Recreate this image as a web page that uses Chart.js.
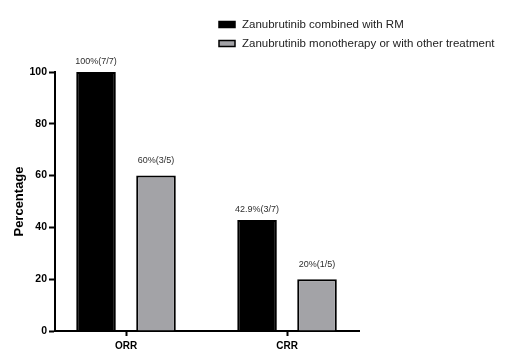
<!DOCTYPE html>
<html>
<head>
<meta charset="utf-8">
<script src="https://cdn.jsdelivr.net/npm/chart.js@4.4.1/dist/chart.umd.min.js"></script>
<style>
  html, body { margin: 0; padding: 0; background: #fff; }
  #wrap { width: 508px; height: 359px; position: relative; }
</style>
</head>
<body>
<div id="wrap"><canvas id="respChart"></canvas></div>
<script>
const categories = ['ORR', 'CRR'];
const seriesNames = ['Zanubrutinib combined with RM', 'Zanubrutinib monotherapy or with other treatment'];
const combinedRM = [100, 42.9];
const monoOther = [60, 20];
const combinedLabels = ['100%(7/7)', '42.9%(3/7)'];
const monoLabels = ['60%(3/5)', '20%(1/5)'];
const yTicks = [0, 20, 40, 60, 80, 100];

const FONT = "'Liberation Sans', Arial, sans-serif";
const barFills = ['#000000', '#a3a3a7'];
const labelGap = [10, 15];
const pointLabels = [combinedLabels, monoLabels];

const valueLabels = {
  id: 'valueLabels',
  afterDatasetsDraw(chart) {
    const { ctx } = chart;
    ctx.save();
    ctx.font = '9px ' + FONT;
    ctx.fillStyle = '#2e2e2e';
    ctx.textAlign = 'center';
    ctx.textBaseline = 'middle';
    chart.data.datasets.forEach((ds, di) => {
      chart.getDatasetMeta(di).data.forEach((bar, i) => {
        ctx.fillText(pointLabels[di][i], bar.x, bar.y - labelGap[di]);
      });
    });
    ctx.restore();
  }
};

const stackedLegend = {
  id: 'stackedLegend',
  afterDraw(chart) {
    const { ctx } = chart;
    ctx.save();
    ctx.font = '11.5px ' + FONT;
    ctx.textBaseline = 'middle';
    seriesNames.forEach((name, i) => {
      const y = 24.5 + i * 19;
      ctx.fillStyle = barFills[i];
      ctx.fillRect(219, y - 3, 16, 6);
      ctx.strokeStyle = '#000';
      ctx.lineWidth = 1.5;
      ctx.strokeRect(219, y - 3, 16, 6);
      ctx.fillStyle = '#222';
      ctx.fillText(name, 242, y);
    });
    ctx.restore();
  }
};

new Chart(document.getElementById('respChart').getContext('2d'), {
  type: 'bar',
  data: {
    labels: categories.map((_, i) => i),
    datasets: [
      { label: seriesNames[0], data: combinedRM, backgroundColor: barFills[0], borderColor: '#000', borderWidth: 2 },
      { label: seriesNames[1], data: monoOther, backgroundColor: barFills[1], borderColor: '#000', borderWidth: 2 }
    ]
  },
  options: {
    responsive: true,
    maintainAspectRatio: false,
    animation: false,
    categoryPercentage: 0.745,
    barPercentage: 0.66,
    layout: { padding: { left: 0, right: 149, top: 72, bottom: 0 } },
    plugins: {
      legend: { display: false },
      tooltip: { enabled: false }
    },
    scales: {
      x: {
        type: 'linear',
        min: -0.441,
        max: 1.447,
        offset: false,
        afterFit: s => { s.height = 28; },
        afterBuildTicks: s => { s.ticks = categories.map((_, i) => ({ value: i })); },
        ticks: {
          autoSkip: false,
          maxRotation: 0,
          padding: 4,
          color: '#000',
          font: { family: FONT, size: 10, weight: 'bold' },
          callback: v => categories[v] ?? ''
        },
        grid: { display: true, offset: false, drawOnChartArea: false, drawTicks: true, tickLength: 5, tickWidth: 2, tickColor: '#000' },
        border: { display: true, color: '#000', width: 2 }
      },
      y: {
        min: 0,
        max: 100,
        afterFit: s => { s.width = 55; },
        afterBuildTicks: s => { s.ticks = yTicks.map(v => ({ value: v })); },
        ticks: {
          padding: 2,
          color: '#000',
          font: { family: FONT, size: 10.5, weight: 'bold' }
        },
        title: {
          display: true,
          text: 'Percentage',
          color: '#000',
          font: { family: FONT, size: 13, weight: 'bold' },
          padding: { top: 12, bottom: 0 }
        },
        grid: { display: true, drawOnChartArea: false, drawTicks: true, tickLength: 6, tickWidth: 2, tickColor: '#000' },
        border: { display: true, color: '#000', width: 2 }
      }
    }
  },
  plugins: [valueLabels, stackedLegend]
});
</script>
</body>
</html>
